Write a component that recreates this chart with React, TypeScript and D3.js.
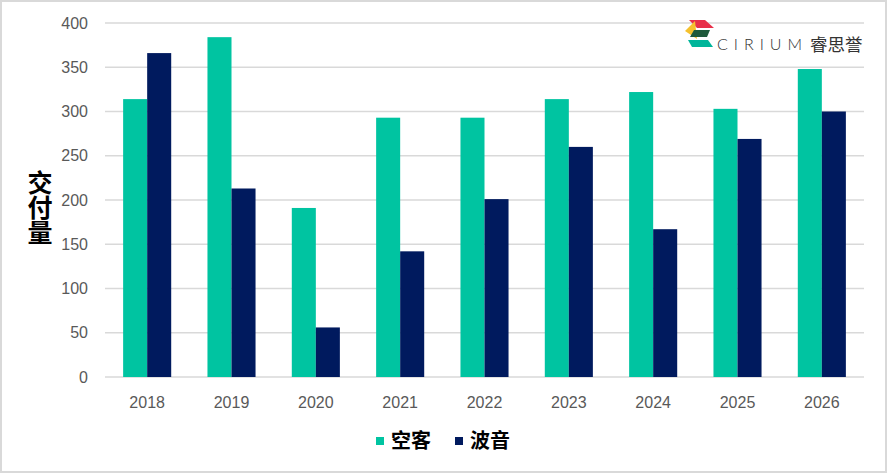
import React from "react";
import * as d3 from "d3";

const years = ["2018", "2019", "2020", "2021", "2022", "2023", "2024", "2025", "2026"];
const airbus = [314, 384, 191, 293, 293, 314, 322, 303, 348];
const boeing = [366, 213, 56, 142, 201, 260, 167, 269, 300];
const yTicks = [0, 50, 100, 150, 200, 250, 300, 350, 400];
const seriesNames = ["空客", "波音"];
const seriesColors = ["#00C4A1", "#001A5E"];

const width = 888;
const height = 474;
const margin = { top: 23, right: 24, bottom: 97, left: 105 };

export default function App() {
  const x = d3
    .scaleBand()
    .domain(years)
    .range([margin.left, width - margin.right])
    .paddingInner(0.43)
    .paddingOuter(0.215);

  const y = d3
    .scaleLinear()
    .domain([0, 400])
    .range([height - margin.bottom, margin.top]);

  const sub = d3
    .scaleBand()
    .domain(["0", "1"])
    .range([0, x.bandwidth()]);

  const series = [airbus, boeing];
  const font = "'Liberation Sans', Arial, sans-serif";
  const cjk = "'Noto Sans CJK SC', sans-serif";

  return (
    <svg
      width={width}
      height={height}
      style={{ position: "absolute", left: 0, top: 0, display: "block" }}
    >
      <rect x={0} y={0} width={width} height={height} fill="#fff" />
      <rect x={1} y={1} width={width - 3} height={height - 3} fill="none" stroke="#D9D9D9" strokeWidth={2} />

      {/* grid */}
      <g>
        {yTicks.map((t) => (
          <line
            key={t}
            x1={margin.left}
            x2={width - margin.right}
            y1={y(t)}
            y2={y(t)}
            stroke="#D9D9D9"
            strokeWidth={1.5}
          />
        ))}
      </g>

      {/* logo */}
      <g>
        <polygon points="689,20 705,20 714,28 697,28" fill="#E8304A" />
        <polygon points="685,31 695,21 697,39" fill="#F5C12E" />
        <polygon points="694,30 710,30 707,37 690,37" fill="#1F5A3C" />
        <polygon points="688,40 708,40 713,47 692,47" fill="#00B59A" />
        <text x={717} y={50} fontFamily="Lato, sans-serif" fontWeight={300} fontSize={16} letterSpacing={6} fill="#333">
          CIRIUM
        </text>
        <text x={810} y={51} fontFamily={cjk} fontSize={17.5} fill="#333">
          睿思誉
        </text>
      </g>

      {/* bars */}
      <g>
        {years.map((yr, i) => (
          <g key={yr} transform={`translate(${x(yr)},0)`}>
            {series.map((s, j) => (
              <rect
                key={j}
                x={sub(String(j))}
                y={y(s[i])}
                width={sub.bandwidth()}
                height={y(0) - y(s[i])}
                fill={seriesColors[j]}
              />
            ))}
          </g>
        ))}
      </g>

      {/* y axis labels */}
      <g fontFamily={font} fontSize={16} fill="#595959" textAnchor="end">
        {yTicks.map((t) => (
          <text key={t} x={88} y={y(t)} dy="0.35em">
            {t}
          </text>
        ))}
      </g>

      {/* x axis labels */}
      <g fontFamily={font} fontSize={16} fill="#595959" textAnchor="middle">
        {years.map((yr) => (
          <text key={yr} x={(x(yr) ?? 0) + x.bandwidth() / 2} y={408}>
            {yr}
          </text>
        ))}
      </g>

      {/* y title */}
      <text
        x={40}
        y={170}
        fontFamily={cjk}
        fontSize={25}
        fontWeight={700}
        fill="#000"
        style={{ writingMode: "vertical-rl" }}
      >
        交付量
      </text>

      {/* legend */}
      <g>
        {seriesNames.map((name, j) => (
          <g key={name} transform={`translate(${376 + j * 79},0)`}>
            <rect x={0} y={437} width={8} height={8} fill={seriesColors[j]} />
            <text x={15} y={448} fontFamily={cjk} fontSize={20} fontWeight={700} fill="#000">
              {name}
            </text>
          </g>
        ))}
      </g>
    </svg>
  );
}
